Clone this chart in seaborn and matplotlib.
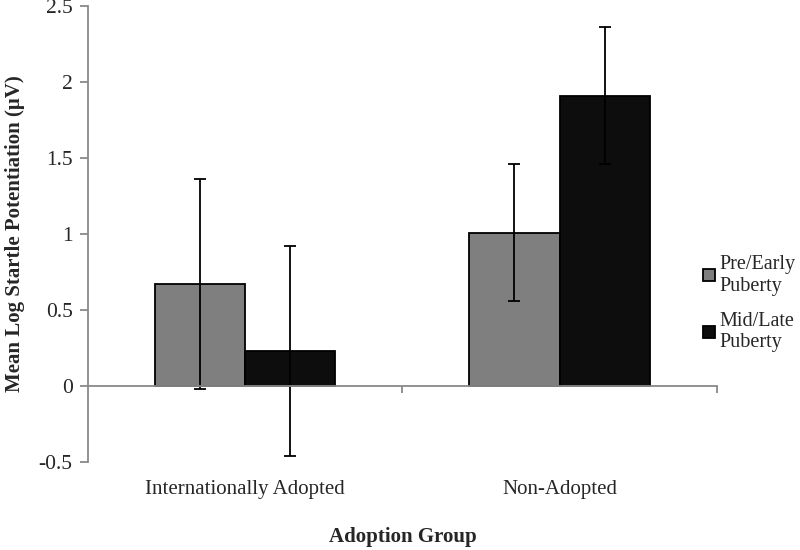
import pandas as pd
import numpy as np
import seaborn as sns
import matplotlib.pyplot as plt
from matplotlib.ticker import FixedLocator

groups = ['Internationally Adopted', 'Non-Adopted']
stages = ['Pre/Early\nPuberty', 'Mid/Late\nPuberty']
pre_means = [0.67, 1.01]
mid_means = [0.23, 1.91]
pre_err = [0.69, 0.45]
mid_err = [0.69, 0.45]

df = pd.DataFrame({
    'group': groups * 2,
    'stage': [stages[0]] * 2 + [stages[1]] * 2,
    'mean': pre_means + mid_means,
    'err': pre_err + mid_err,
})

sns.set_style('white')
plt.rcParams['font.family'] = ['Liberation Serif', 'DejaVu Serif']

fig = plt.figure(figsize=(8, 5.5), dpi=100)
ax = fig.add_axes([0.11, 0.16, 0.786, 0.829])

sns.barplot(data=df, x='group', y='mean', hue='stage', order=groups,
            hue_order=stages, palette=['#7f7f7f', '#0d0d0d'], errorbar=None,
            width=0.574, edgecolor='black', linewidth=1.3, ax=ax)

# error bars centred on each drawn bar
for patch, (_, row) in zip(ax.patches, df.iterrows()):
    xc = patch.get_x() + patch.get_width() / 2
    ax.errorbar(xc, row['mean'], yerr=row['err'], fmt='none', ecolor='black',
                elinewidth=1.3, capsize=4, capthick=1.3)

ax.set_ylim(-0.5, 2.5)
ax.set_xlim(-0.5, 1.5)
ax.set_yticks(np.arange(-0.5, 2.51, 0.5))
ax.set_yticklabels(['-0.5', '0', '0.5', '1', '1.5', '2', '2.5'])

for s in ['top', 'right']:
    ax.spines[s].set_visible(False)
ax.spines['bottom'].set_position(('data', 0))
for s in ['left', 'bottom']:
    ax.spines[s].set_color('#898989')
    ax.spines[s].set_linewidth(1.3)

ax.tick_params(axis='y', left=True, length=6, width=1.3, color='#898989',
               labelsize=15.5, pad=5)
ax.tick_params(axis='x', which='major', length=0, labelsize=15, pad=68)
ax.xaxis.set_minor_locator(FixedLocator([0.5, 1.5]))
ax.tick_params(axis='x', which='minor', bottom=True, length=5, width=1.3,
               color='#898989')

ax.set_xlabel('Adoption Group', fontsize=15, fontweight='bold')
ax.set_ylabel('Mean Log Startle Potentiation (\u03bcV)', fontsize=15,
              fontweight='bold')
ax.xaxis.set_label_coords(0.5, -0.143)
ax.yaxis.set_label_coords(-0.1, 0.5)

ax.legend(loc='center left', bbox_to_anchor=(0.869, 0.448),
          bbox_transform=fig.transFigure, frameon=False,
          fontsize=14.5, handlelength=0.6, handleheight=0.6, handletextpad=0.2,
          labelspacing=0.8, borderaxespad=0)

fig.savefig('out.png', dpi=100)
